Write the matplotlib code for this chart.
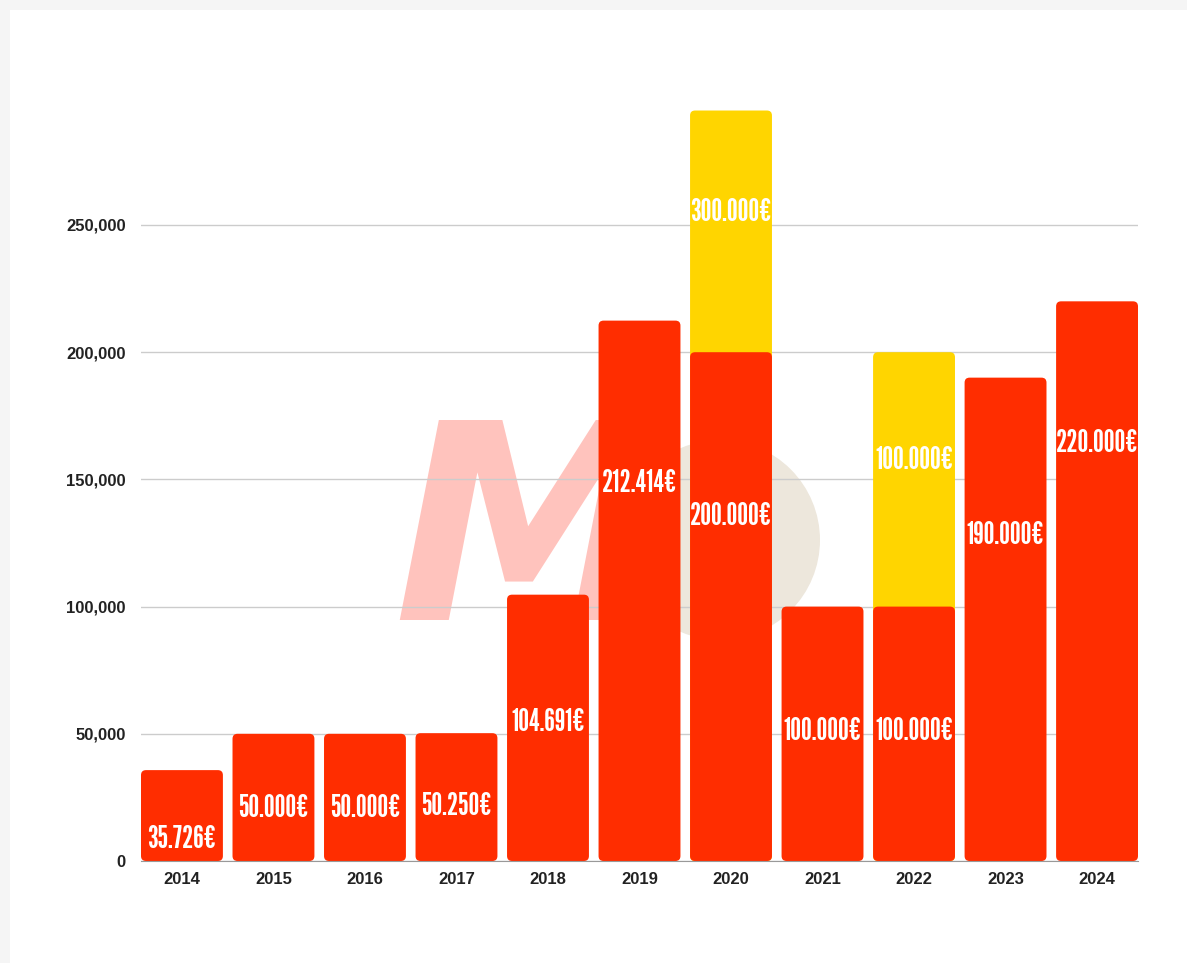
import matplotlib
matplotlib.use("Agg")
import matplotlib.pyplot as plt
from matplotlib.patches import FancyBboxPatch, Rectangle, Ellipse
from matplotlib.ticker import FuncFormatter

# ---- data ----
years = ["2014", "2015", "2016", "2017", "2018", "2019", "2020", "2021", "2022", "2023", "2024"]
red_values = [35726, 50000, 50000, 50250, 104691, 212414, 200000, 100000, 100000, 190000, 220000]
yellow_values = [0, 0, 0, 0, 0, 0, 295000, 0, 200000, 0, 0]
red_labels = ["35.726€", "50.000€", "50.000€", "50.250€", "104.691€", "212.414€",
              "200.000€", "100.000€", "100.000€", "190.000€", "220.000€"]
yellow_labels = ["", "", "", "", "", "", "300.000€", "", "100.000€", "", ""]
red_label_y = [8300, 20800, 20800, 21600, 54600, 148200, 135600, 51100, 51100, 127800, 164300]
yellow_label_y = [0, 0, 0, 0, 0, 0, 255100, 0, 157600, 0, 0]
y_ticks = [0, 50000, 100000, 150000, 200000, 250000]

RED = "#ff2d00"
YELLOW = "#ffd500"
W, H = 1187, 963

fig = plt.figure(figsize=(W / 100, H / 100), dpi=100, facecolor="#f5f5f5")
fig.patches.append(Rectangle((10 / W, 0), 1 - 10 / W, 1 - 10 / H, transform=fig.transFigure,
                             facecolor="white", edgecolor="none", zorder=-10))

ax = fig.add_axes([141 / W, (H - 861) / H, (1138 - 141) / W, (861 - 97.8) / H])
ax.set_facecolor("none")

x = list(range(len(years)))
bw = 0.895
ax.set_xlim(-bw / 2, len(years) - 1 + bw / 2)
ax.set_ylim(0, 300000)

bb = ax.get_position()
axw_px = bb.width * W
axh_px = bb.height * H

# watermark logo
ax.text((393 - 141) / axw_px, (861 - 620) / axh_px, "M", transform=ax.transAxes, fontsize=198,
        fontweight="bold", style="italic", color="#ffc3bd", ha="left", va="baseline", zorder=0.1,
        family=["DejaVu Sans"])
ax.add_patch(Ellipse(((720 - 141) / axw_px, (861 - 540) / axh_px), 2 * 100 / axw_px, 2 * 100 / axh_px,
                     transform=ax.transAxes, facecolor="#ede7dc", edgecolor="none", zorder=0.05))

ybars = ax.bar(x, yellow_values, width=bw, color=YELLOW, zorder=2)
rbars = ax.bar(x, red_values, width=bw, color=RED, zorder=3)

ypp = 300000 / axh_px
xpp = (len(years) - 1 + bw) / axw_px
for container in (ybars, rbars):
    for r in container:
        if r.get_height() <= 0:
            r.remove()
            continue
        xx, yy = r.get_x(), r.get_y()
        w, h = r.get_width(), r.get_height()
        fb = FancyBboxPatch((xx, yy), w, h,
                            boxstyle="round,pad=0,rounding_size=%f" % (5 * xpp),
                            mutation_aspect=ypp / xpp,
                            facecolor=r.get_facecolor(), edgecolor="none", zorder=r.get_zorder())
        r.remove()
        ax.add_patch(fb)

lab_kw = dict(ha="center", va="center", color="white", fontsize=22, fontweight="normal",
              family=["League Gothic", "Bebas Neue", "Oswald", "DejaVu Sans"], zorder=5)
for i in x:
    ax.text(i, red_label_y[i], red_labels[i], **lab_kw)
    if yellow_labels[i]:
        ax.text(i, yellow_label_y[i], yellow_labels[i], **lab_kw)

ax.set_yticks(y_ticks)
ax.yaxis.set_major_formatter(FuncFormatter(lambda v, p: f"{int(v):,}"))
ax.set_xticks(x)
ax.set_xticklabels(years)
ax.grid(axis="y", color="#cccccc", linewidth=1, zorder=0.5)
ax.set_axisbelow(True)
for s in ["top", "right", "left"]:
    ax.spines[s].set_visible(False)
ax.spines["bottom"].set_color("#999999")
ax.spines["bottom"].set_zorder(4)
ax.tick_params(axis="both", length=0, labelsize=12, labelcolor="#222222")
ax.tick_params(axis="y", pad=11)
ax.tick_params(axis="x", pad=8)
for t in ax.get_xticklabels() + ax.get_yticklabels():
    t.set_fontweight("bold")
    t.set_family(["Liberation Sans", "DejaVu Sans"])

fig.savefig("out.png", dpi=100, facecolor=fig.get_facecolor())
